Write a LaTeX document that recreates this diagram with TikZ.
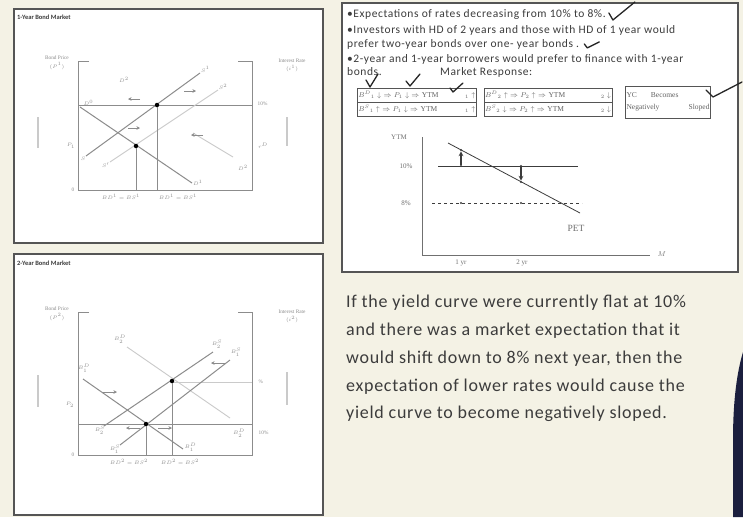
\documentclass[tikz,border=0pt]{standalone}
\usepackage{fontspec}
\setmainfont{Carlito}
\newfontfamily\serifish{Liberation Serif}
\usetikzlibrary{positioning,arrows.meta}

\definecolor{slidebg}{HTML}{F4F2E5}
\definecolor{framegray}{HTML}{555555}
\definecolor{inkgray}{HTML}{3C3C3C}
\definecolor{linegray}{HTML}{8C8C8C}
\definecolor{palegray}{HTML}{CACACA}
\definecolor{tickink}{HTML}{262626}
\definecolor{deepnavy}{HTML}{1B1F3E}

\tikzset{
  panel/.style={draw=framegray, line width=1.3pt, fill=white},
  axisline/.style={draw=linegray, line width=1pt},
  bondline/.style={draw=linegray, line width=1pt},
  paleline/.style={draw=palegray, line width=0.9pt},
  glabel/.style={font=\serifish\fontsize{5.3}{6}\selectfont, text=linegray, inner sep=0.5pt},
  ylabel/.style={font=\serifish\fontsize{7}{8}\selectfont, text=linegray!80!black, inner sep=0.5pt},
  ptitle/.style={font=\bfseries\fontsize{6.5}{7}\selectfont, text=inkgray, anchor=west, inner sep=0pt},
  eqdot/.style={circle, fill=black, inner sep=0pt, minimum size=4.5pt},
  smalldot/.style={circle, fill=inkgray, inner sep=0pt, minimum size=2.4pt},
  bullet/.style={font=\fontsize{11.5}{12}\selectfont\addfontfeature{LetterSpace=5}, text=inkgray, anchor=base west, inner sep=0pt},
  respcell/.style={draw=framegray, line width=0.7pt, minimum height=13.5pt, inner sep=1pt, text width=#1,
    font=\serifish\fontsize{7.5}{8}\selectfont, text=linegray!70!black},
  checkmk/.style={draw=tickink, line width=1.3pt, line cap=round, line join=round},
  shiftarr/.style={-{Stealth[length=3.5pt,width=3.5pt]}, draw=linegray, line width=0.7pt},
}

\begin{document}
\begin{tikzpicture}[x=1pt, y=-1pt, >=stealth]
\useasboundingbox (0,0) rectangle (743,517);
\fill[slidebg] (0,0) rectangle (743,517);

% white panels
\draw[panel] (14,9) rectangle (323,243);
\draw[panel] (14,254) rectangle (323,515);
\draw[panel] (342,3) rectangle (738,272);

\node[ptitle] (title1) at (17,17) {1-Year Bond Market};
\node[ptitle] (title2) at (17,263) {2-Year Bond Market};

% axes of the two bond markets
\foreach \ytop/\ybot/\k in {61/190/1, 312/455/2} {
  \draw[axisline] (89,\ytop) -- (78,\ytop) -- (78,\ybot) -- (252,\ybot) -- (252,\ytop) -- (238,\ytop);
  \node[glabel] (bp\k) at (57,\ytop-3) {Bond Price};
  \node[glabel, below=1.5pt of bp\k] (bpv\k) {$(P^{\k})$};
  \node[glabel] (ir\k) at (292,\ytop) {Interest Rate};
  \node[glabel, below=1.5pt of ir\k] (irv\k) {$(i^{\k})$};
  \node[glabel] (zero\k) at (73,\ybot) {0};
  \coordinate (base\k) at (78,\ybot);
}
\draw[paleline, line width=1.3pt] (38,117) -- (38,148);
\draw[paleline, line width=1.3pt] (287,117) -- (287,146);
\draw[paleline, line width=1.3pt] (38,375) -- (38,407);
\draw[paleline, line width=1.3pt] (287,372) -- (287,405);

% 1-year market
\draw[bondline] (78,105) -- (252,105);
\node[glabel, anchor=west] (rate1) at (257,104) {10\%};
\draw[bondline] (86,156) -- (200,73) node[glabel, anchor=south west] (s1top) {$S^1$};
\node[glabel, anchor=north east] (s1low) at (86,156) {$S$};
\draw[paleline] (110,162) -- (218,90) node[glabel, anchor=south west] (s2top) {$S^2$};
\node[glabel, anchor=north east] (s2low) at (110,162) {$S'$};
\draw[bondline] (80,107) -- (192,183) node[glabel, anchor=west] (d1low) {$D^1$};
\node[glabel, anchor=south west] (d0) at (83,106) {$D^0$};
\node[glabel] (d2top) at (124,80) {$D^2$};
\draw[paleline] (193,133) -- (233,157);
\node[glabel] (d2low) at (243,168) {$D^2$};
\node[glabel] (rd1) at (263,146) {$r^D$};
\node[glabel] (pr1) at (71,146) {$P_1$};
\node[eqdot] (e1) at (157,105) {};
\node[eqdot] (e0) at (136,146) {};
\draw[bondline] (e1) -- (e1 |- base1);
\draw[bondline] (e0) -- (e0 |- base1);
\node[glabel] (q1a) at (121,197) {$BD^1 = BS^1$};
\node[glabel] (q1b) at (178,197) {$BD^1 = BS^1$};
\foreach \x/\y/\d in {140/99/-12, 184/91/12, 128/128/12, 203/135/-12}
  \draw[shiftarr] (\x,\y) -- ++(\d,0);

% 2-year market
\draw[bondline] (78,424) -- (252,424);
\draw[paleline] (172,382) -- (252,382);
\node[glabel, anchor=west] (rate2a) at (258,433) {10\%};
\node[glabel, anchor=west] (rate2b) at (258,382) {\%};
\draw[paleline] (127,347) -- (230,418);
\node[glabel] (bd2top) at (120,339) {$B^D_2$};
\node[glabel] (bd2low) at (239,433) {$B^D_2$};
\draw[bondline] (83,379) -- (183,449);
\node[glabel] (bd1top) at (84,368) {$B^D_1$};
\node[glabel, anchor=west] (bd1low) at (184,447) {$B^D_1$};
\draw[bondline] (104,426) -- (213,352);
\node[glabel] (bs2top) at (217,344) {$B^S_2$};
\node[glabel] (bs2low) at (100,430) {$B^S_2$};
\draw[bondline] (120,445) -- (230,360);
\node[glabel] (bs1top) at (236,352) {$B^S_1$};
\node[glabel] (bs1low) at (115,449) {$B^S_1$};
\node[glabel] (pr2) at (70,405) {$P_2$};
\node[eqdot] (e2a) at (146,424) {};
\node[eqdot] (e2b) at (172,381) {};
\draw[bondline] (e2a) -- (e2a |- base2);
\draw[bondline] (e2b) -- (e2b |- base2);
\node[glabel] (q2a) at (129,462) {$BD^2 = BS^2$};
\node[glabel] (q2b) at (180,462) {$BD^2 = BS^2$};
\foreach \x/\y/\d in {225/363/-14, 103/392/14, 140/428/-14, 158/428/14}
  \draw[shiftarr] (\x,\y) -- ++(\d,0);

% expectations text
\node[bullet] (l1) at (347,17) {•Expectations of rates decreasing from 10\% to 8\%.};
\node[bullet] (l2) at (347,33) {•Investors with HD of 2 years and those with HD of 1 year would};
\node[bullet] (l3) at (347,47) {prefer two-year bonds over one- year bonds .};
\node[bullet] (l4) at (347,62) {•2-year and 1-year borrowers would prefer to finance with 1-year};
\node[bullet] (l5) at (347,75) {bonds.};
\node[bullet] (mr) at (440,75) {Market Response:};

% market response cells
\node[respcell=117pt, anchor=north west] (c11) at (357,88)
  {$B^{D}{}_{1}\downarrow\;\Rightarrow P_{1}\downarrow\;\Rightarrow$ YTM\hfill${}_{1}\uparrow$};
\node[respcell=117pt, below=0pt of c11] (c12)
  {$B^{S}{}_{1}\uparrow\;\Rightarrow P_{1}\downarrow\;\Rightarrow$ YTM\hfill${}_{1}\uparrow$};
\node[respcell=126pt, right=7pt of c11] (c21)
  {$B^{D}{}_{2}\uparrow\;\Rightarrow P_{2}\uparrow\;\Rightarrow$ YTM\hfill${}_{2}\downarrow$};
\node[respcell=126pt, below=0pt of c21] (c22)
  {$B^{S}{}_{2}\downarrow\;\Rightarrow P_{2}\uparrow\;\Rightarrow$ YTM\hfill${}_{2}\downarrow$};
\node[respcell=83pt, minimum height=32pt] (yc) at (668,102)
  {YC\hspace{14pt}Becomes\\[4pt] Negatively\hfill Sloped};

% check marks
\draw[checkmk] ([xshift=3pt,yshift=1pt]l1.east) -- ++(4,7) -- ++(22,-18);
\draw[checkmk] ([xshift=5pt]l3.east) -- ++(3,4) -- ++(12,-6);
\draw[checkmk] (366,80) -- (370,87) -- (378,74);
\draw[checkmk] (406,81) -- (410,86) -- (420,74);
\draw[checkmk] (450,88) -- (453,92) -- (463,83);
\draw[checkmk] (706,90) -- (713,97) -- (742,82);

% yield curve graph
\draw[axisline, draw=linegray!80!black] (422,137) -- (422,255) -- (650,255);
\node[ylabel] (ytm) at (399,137) {YTM};
\node[ylabel, anchor=west] (mat) at (657,254) {$M$};
\node[ylabel] (ten) at (406,166) {10\%};
\node[ylabel] (eight) at (406,203) {8\%};
\node[ylabel] (yr1) at (461,263) {1 yr};
\node[ylabel] (yr2) at (522,263) {2 yr};
\draw[draw=inkgray, line width=0.8pt] (438,166) -- (578,166);
\draw[draw=inkgray, line width=0.8pt, dashed] (432,203) -- (582,203);
\draw[draw=inkgray, line width=0.8pt] (448,143) -- (580,213);
\node[ylabel, font=\serifish\fontsize{9.5}{10}\selectfont] (pet) at (576,228) {PET};
\node[smalldot] (a10) at (461,166) {};
\node[smalldot] (apet) at (461,150) {};
\node[smalldot] (a8) at (461,203) {};
\node[smalldot] (b10) at (521,166) {};
\node[smalldot] (bpet) at (521,182) {};
\node[smalldot] (b8) at (521,203) {};
\draw[->, inkgray, line width=1.1pt] (a10) -- (apet);
\draw[->, inkgray, line width=1.1pt] (b10) -- (bpet);

% explanation
\node[anchor=north west, align=left, inner sep=0pt, text=inkgray,
  font=\fontsize{18}{27.8}\selectfont\addfontfeature{LetterSpace=4}] (para) at (346,295)
  {If the yield curve were currently flat at 10\%\\
   and there was a market expectation that it\\
   would shift down to 8\% next year, then the\\
   expectation of lower rates would cause the\\
   yield curve to become negatively sloped.};

% edge of a dark shape at the right
\fill[deepnavy] (743,352) .. controls (737,372) and (733,400) .. (733,440) -- (733,517) -- (743,517) -- cycle;
\end{tikzpicture}
\end{document}
